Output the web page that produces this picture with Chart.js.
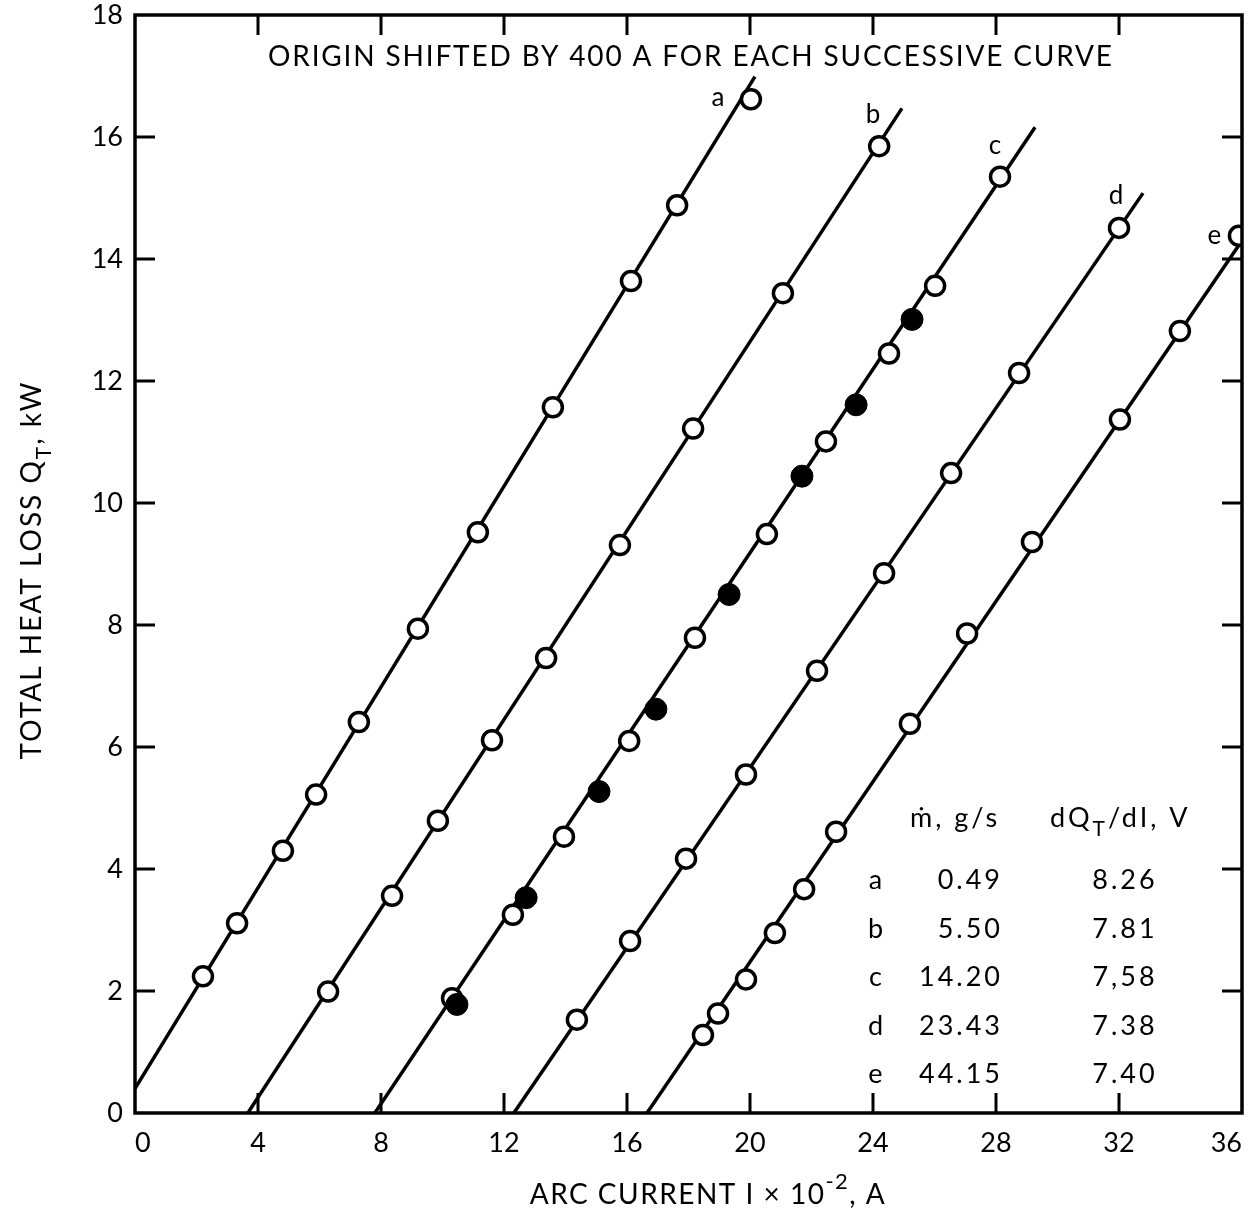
<!DOCTYPE html>
<html>
<head>
<meta charset="utf-8">
<script src="https://cdn.jsdelivr.net/npm/chart.js@4.4.1/dist/chart.umd.min.js"></script>
<style>
  html, body { margin: 0; padding: 0; background: #fff; }
  #heatChart { display: block; }
</style>
</head>
<body>
<canvas id="heatChart" width="1253" height="1218"></canvas>
<script>
// arc current I x 10^-2 (A) and total heat loss Q_T (kW)
const aI = [2.21, 3.32, 4.81, 5.89, 7.28, 9.20, 11.15, 13.59, 16.13, 17.63, 20.03];
const aQ = [2.24, 3.11, 4.30, 5.22, 6.41, 7.94, 9.52, 11.57, 13.64, 14.88, 16.62];
const bI = [6.28, 8.36, 9.85, 11.61, 13.37, 15.77, 18.15, 21.07, 24.20];
const bQ = [1.99, 3.56, 4.79, 6.11, 7.46, 9.31, 11.22, 13.44, 15.85];
const cI = [10.31, 12.29, 13.95, 16.07, 18.21, 20.55, 22.47, 24.52, 26.02, 28.13];
const cQ = [1.88, 3.25, 4.53, 6.10, 7.79, 9.49, 11.01, 12.45, 13.56, 15.35];
const cFilledI = [10.47, 12.72, 15.09, 16.94, 19.32, 21.69, 23.45, 25.27];
const cFilledQ = [1.78, 3.53, 5.27, 6.62, 8.50, 10.44, 11.61, 13.01];
const dI = [14.37, 16.10, 17.92, 19.87, 22.18, 24.36, 26.54, 28.75, 32.00];
const dQ = [1.53, 2.82, 4.17, 5.55, 7.25, 8.85, 10.49, 12.13, 14.51];
const eI = [18.47, 18.96, 19.87, 20.81, 21.76, 22.80, 25.20, 27.06, 29.17, 32.03, 33.98, 35.90];
const eQ = [1.28, 1.63, 2.19, 2.95, 3.67, 4.61, 6.38, 7.86, 9.36, 11.37, 12.82, 14.38];

// straight fitted lines, start and end of each
const curveNames = ['a', 'b', 'c', 'd', 'e'];
const fitStartI = [0, 3.67, 7.80, 12.32, 16.65];
const fitStartQ = [0.40, 0, 0, 0, 0];
const fitEndI = [20.16, 24.94, 29.27, 32.78, 36.2];
const fitEndQ = [16.99, 16.47, 16.16, 15.08, 14.45];
const labelI = [18.96, 24.0, 27.97, 31.9, 35.1];
const labelQ = [16.64, 16.36, 15.86, 15.04, 14.38];

// ticks
const xTicks = [0, 4, 8, 12, 16, 20, 24, 28, 32, 36];
const yTicks = [0, 2, 4, 6, 8, 10, 12, 14, 16, 18];

// table in the lower right
const massFlow = ['0.49', '5.50', '14.20', '23.43', '44.15'];
const slopeV = ['8.26', '7.81', '7,58', '7.38', '7.40'];

const noteText = 'ORIGIN SHIFTED BY 400 A FOR EACH SUCCESSIVE CURVE';
const FONT = 'Lato, "Open Sans", sans-serif';

function pts(xs, ys) {
  return xs.map((x, i) => ({ x: x, y: ys[i] }));
}

const datasets = [];
curveNames.forEach((name, i) => {
  datasets.push({
    label: 'fit ' + name,
    data: [{ x: fitStartI[i], y: fitStartQ[i] }, { x: fitEndI[i], y: fitEndQ[i] }],
    showLine: true,
    borderColor: '#000',
    borderWidth: 3.5,
    pointRadius: 0,
    order: 2
  });
});

const pointSets = [[aI, aQ], [bI, bQ], [cI, cQ], [dI, dQ], [eI, eQ]];
pointSets.forEach((s, i) => {
  datasets.push({
    label: curveNames[i],
    data: pts(s[0], s[1]),
    showLine: false,
    pointRadius: 9.5,
    pointBorderWidth: 3.5,
    pointBackgroundColor: '#fff',
    pointBorderColor: '#000',
    order: 1
  });
});
datasets.push({
  label: 'c (filled)',
  data: pts(cFilledI, cFilledQ),
  showLine: false,
  pointRadius: 11,
  pointBorderWidth: 1,
  pointBackgroundColor: '#000',
  pointBorderColor: '#000',
  order: 0
});

function drawParts(ctx, parts, x, y, align) {
  let total = 0;
  parts.forEach(p => {
    ctx.font = p.size + 'px ' + FONT;
    p.w = ctx.measureText(p.t).width;
    total += p.w;
  });
  let cx = align === 'center' ? x - total / 2 : (align === 'right' ? x - total : x);
  parts.forEach(p => {
    ctx.font = p.size + 'px ' + FONT;
    ctx.fillText(p.t, cx, y + (p.dy || 0));
    cx += p.w;
  });
}

const framePlugin = {
  id: 'frame',
  afterDraw(chart) {
    const ctx = chart.ctx;
    const a = chart.chartArea;
    const xs = chart.scales.x, ys = chart.scales.y;
    ctx.save();
    ctx.strokeStyle = '#000';
    ctx.fillStyle = '#000';
    ctx.lineWidth = 3.5;
    ctx.strokeRect(a.left, a.top, a.right - a.left, a.bottom - a.top);
    const len = 20;
    ctx.lineWidth = 3;
    ctx.beginPath();
    xTicks.slice(1, -1).forEach(v => {
      const px = xs.getPixelForValue(v);
      ctx.moveTo(px, a.bottom); ctx.lineTo(px, a.bottom - len);
      ctx.moveTo(px, a.top); ctx.lineTo(px, a.top + len);
    });
    yTicks.slice(1, -1).forEach(v => {
      const py = ys.getPixelForValue(v);
      ctx.moveTo(a.left, py); ctx.lineTo(a.left + len, py);
      ctx.moveTo(a.right, py); ctx.lineTo(a.right - len, py);
    });
    ctx.stroke();

    ctx.textBaseline = 'middle';

    // note at top
    ctx.font = '28px ' + FONT;
    const w0 = ctx.measureText(noteText).width;
    const sp = (844 - w0) / (noteText.length - 1);
    ctx.letterSpacing = sp + 'px';
    ctx.textAlign = 'left';
    ctx.fillText(noteText, 268, 57);
    ctx.letterSpacing = '0px';

    // curve letters
    ctx.font = '26px ' + FONT;
    ctx.textAlign = 'center';
    curveNames.forEach((n, i) => {
      ctx.fillText(n, xs.getPixelForValue(labelI[i]), ys.getPixelForValue(labelQ[i]));
    });

    // table
    ctx.letterSpacing = '3px';
    ctx.textAlign = 'left';
    drawParts(ctx, [{ t: 'ṁ, g/s', size: 27 }], 910, 818, 'left');
    drawParts(ctx, [{ t: 'dQ', size: 27 }, { t: 'T', size: 21, dy: 11 }, { t: '/dI, V', size: 27 }], 1050, 818, 'left');
    const rowY = [880, 929, 977, 1026, 1074];
    curveNames.forEach((n, i) => {
      ctx.font = '27px ' + FONT;
      ctx.textAlign = 'center';
      ctx.fillText(n, 877, rowY[i]);
      ctx.textAlign = 'right';
      ctx.fillText(massFlow[i], 1003, rowY[i]);
      ctx.textAlign = 'center';
      ctx.fillText(slopeV[i], 1125, rowY[i]);
    });
    ctx.textAlign = 'left';

    // axis titles
    ctx.letterSpacing = '1.5px';
    drawParts(ctx, [{ t: 'ARC CURRENT I × 10', size: 28 }, { t: '-2', size: 22, dy: -13 }, { t: ', A', size: 28 }], 708, 1195, 'center');
    ctx.translate(32, 570);
    ctx.rotate(-Math.PI / 2);
    ctx.letterSpacing = '2px';
    drawParts(ctx, [{ t: 'TOTAL HEAT LOSS Q', size: 28 }, { t: 'T', size: 21, dy: 12 }, { t: ', kW', size: 28 }], 0, 0, 'center');
    ctx.restore();
  }
};

new Chart(document.getElementById('heatChart'), {
  type: 'scatter',
  data: { datasets: datasets },
  options: {
    responsive: false,
    animation: false,
    devicePixelRatio: 1,
    layout: { autoPadding: false, padding: { top: 15, right: 11, left: 0, bottom: 0 } },
    plugins: { legend: { display: false }, tooltip: { enabled: false } },
    scales: {
      x: {
        type: 'linear', min: 0, max: 36,
        afterFit: s => { s.height = 105; s.paddingLeft = 0; s.paddingRight = 0; },
        afterBuildTicks: s => { s.ticks = xTicks.map(v => ({ value: v })); },
        grid: { display: false, drawTicks: false },
        border: { display: false },
        ticks: { color: '#000', padding: 14, align: 'inner', maxRotation: 0, font: { family: FONT, size: 27 } }
      },
      y: {
        type: 'linear', min: 0, max: 18,
        afterFit: s => { s.width = 135; s.paddingTop = 0; s.paddingBottom = 0; },
        afterBuildTicks: s => { s.ticks = yTicks.map(v => ({ value: v })); },
        grid: { display: false, drawTicks: false },
        border: { display: false },
        ticks: { color: '#000', padding: 12, align: 'inner', font: { family: FONT, size: 27 } }
      }
    }
  },
  plugins: [framePlugin]
});
</script>
</body>
</html>
